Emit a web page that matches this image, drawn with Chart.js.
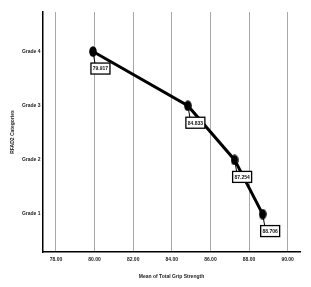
<!DOCTYPE html>
<html>
<head>
<meta charset="utf-8">
<script src="https://cdn.jsdelivr.net/npm/chart.js@4"></script>
<style>
  html, body { margin: 0; padding: 0; background: #fff; }
  #wrap { width: 311px; height: 287px; }
</style>
</head>
<body>
<div id="wrap"><canvas id="myChart"></canvas></div>
<script>
// Категории по Y оста (отдолу нагоре) и средните стойности по X
const gradeLabels = ['Grade 1', 'Grade 2', 'Grade 3', 'Grade 4'];
const gradePositions = [1, 2, 3, 4];
const meanValues = [88.706, 87.254, 84.833, 79.917];
const xTickValues = [78, 80, 82, 84, 86, 88, 90];

const fontFamily = 'Arial, "Liberation Sans", sans-serif';

// Точките са черни елипси, леко издължени вертикално
function ellipsePoint() {
    const c = document.createElement('canvas');
    c.width = 8; c.height = 11;
    const g = c.getContext('2d');
    g.fillStyle = '#000';
    g.beginPath();
    g.ellipse(4, 5.5, 3.8, 5.2, 0, 0, Math.PI * 2);
    g.fill();
    return c;
}

// Кутийки със стойностите под всяка точка
const valueBoxes = {
    id: 'valueBoxes',
    afterDatasetsDraw(chart) {
        const ctx = chart.ctx;
        const meta = chart.getDatasetMeta(0);
        ctx.save();
        ctx.font = 'bold 5px ' + fontFamily;
        ctx.textAlign = 'center';
        ctx.textBaseline = 'middle';
        meta.data.forEach((pt, i) => {
            const bx = pt.x - 2;
            const by = pt.y + 11.5;
            const bw = 19, bh = 11;
            ctx.strokeStyle = '#000';
            ctx.lineWidth = 1;
            ctx.beginPath();
            ctx.moveTo(pt.x, pt.y);
            ctx.lineTo(pt.x + 2, by);
            ctx.stroke();
            ctx.fillStyle = '#fff';
            ctx.fillRect(bx, by, bw, bh);
            ctx.lineWidth = 1.3;
            ctx.strokeRect(bx, by, bw, bh);
            ctx.fillStyle = '#111';
            ctx.fillText(meanValues[i].toFixed(3), bx + bw / 2, by + bh / 2 + 0.5);
        });
        ctx.restore();
    }
};

new Chart(document.getElementById('myChart'), {
    type: 'line',
    data: {
        datasets: [{
            data: meanValues.map((v, i) => ({ x: v, y: gradePositions[i] })),
            borderColor: '#000',
            borderWidth: 3,
            pointStyle: ellipsePoint(),
            tension: 0
        }]
    },
    options: {
        animation: false,
        responsive: true,
        maintainAspectRatio: false,
        layout: { padding: { top: 12, right: 11, left: 0, bottom: 0 } },
        plugins: { legend: { display: false }, tooltip: { enabled: false } },
        scales: {
            x: {
                type: 'linear',
                min: 77.33,
                max: 90.64,
                afterBuildTicks: s => { s.ticks = xTickValues.map(v => ({ value: v })); },
                afterFit: s => { s.height = 35; },
                grid: { color: '#a8a8a8', lineWidth: 1, drawTicks: false },
                border: { color: '#000', width: 1.5 },
                ticks: {
                    padding: 5,
                    color: '#222',
                    font: { family: fontFamily, size: 5, weight: 'bold' },
                    callback: v => v.toFixed(2)
                },
                title: {
                    display: true,
                    text: 'Mean of Total Grip Strength',
                    color: '#222',
                    padding: { top: 0, bottom: 7.3 },
                    font: { family: fontFamily, size: 5, weight: 'bold' }
                }
            },
            y: {
                type: 'linear',
                min: 0.3,
                max: 4.73,
                afterBuildTicks: s => { s.ticks = gradePositions.map(v => ({ value: v })); },
                afterFit: s => { s.width = 43; },
                grid: { display: false, drawTicks: false },
                border: { color: '#000', width: 1.5 },
                ticks: {
                    padding: 2.5,
                    color: '#222',
                    font: { family: fontFamily, size: 5, weight: 'bold' },
                    callback: v => gradeLabels[gradePositions.indexOf(v)]
                },
                title: {
                    display: true,
                    text: 'RFAD2 Categories',
                    color: '#222',
                    padding: { top: 9.7, bottom: 0 },
                    font: { family: fontFamily, size: 5, weight: 'bold' }
                }
            }
        }
    },
    plugins: [valueBoxes]
});
</script>
</body>
</html>
